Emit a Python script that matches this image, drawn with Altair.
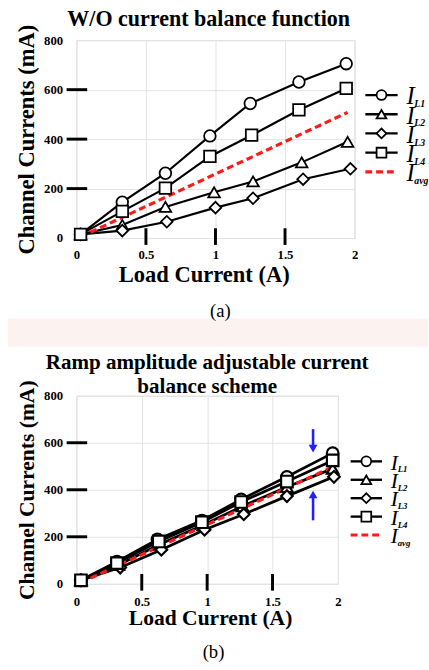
import altair as alt
import pandas as pd

SERIF = "Liberation Serif"

# ---- (a) without current balance function ----
a_x_L1 = [0.03, 0.33, 0.64, 0.96, 1.25, 1.60, 1.94]
a_y_L1 = [15, 145, 262, 413, 544, 631, 705]
a_x_L2 = [0.03, 0.33, 0.64, 0.99, 1.27, 1.62, 1.95]
a_y_L2 = [15, 53, 126, 185, 229, 306, 389]
a_x_L3 = [0.03, 0.33, 0.65, 1.00, 1.27, 1.63, 1.97]
a_y_L3 = [15, 30, 66, 123, 161, 238, 280]
a_x_L4 = [0.03, 0.33, 0.64, 0.96, 1.26, 1.60, 1.94]
a_y_L4 = [15, 108, 202, 330, 416, 518, 605]
a_x_avg = [0.03, 1.95]
a_y_avg = [5, 508]

# ---- (b) ramp amplitude adjustable current balance scheme ----
b_x_L1 = [0.035, 0.31, 0.62, 0.96, 1.26, 1.61, 1.96]
b_y_L1 = [15, 94, 189, 269, 359, 455, 556]
b_x_L2 = [0.035, 0.32, 0.64, 0.97, 1.27, 1.61, 1.96]
b_y_L2 = [15, 80, 168, 250, 330, 412, 490]
b_x_L3 = [0.035, 0.335, 0.65, 0.98, 1.28, 1.61, 1.97]
b_y_L3 = [15, 69, 145, 230, 296, 373, 455]
b_x_L4 = [0.035, 0.31, 0.63, 0.96, 1.26, 1.61, 1.96]
b_y_L4 = [15, 88, 180, 262, 348, 435, 525]
b_x_avg = [0.035, 1.95]
b_y_avg = [5, 495]

# blue arrows marking the narrowed spread
arrow_x = 1.81
down_from, down_to = 658, 575
up_from, up_to = 270, 380

series_keys = ["L1", "L2", "L3", "L4"]
series_shapes = ["circle", "triangle-up", "diamond", "square"]
legend_subs = ["L1", "L2", "L3", "L4", "avg"]

x_ticks = [0, 0.5, 1, 1.5, 2]
y_ticks = [0, 200, 400, 600, 800]
inner_x_ticks = [0.5, 1, 1.5]
inner_y_ticks = [200, 400, 600]


def long_table(xs, ys):
    rows = []
    for key, xv, yv in zip(series_keys, xs, ys):
        for a, b in zip(xv, yv):
            rows.append({"x": a, "y": b, "s": key})
    return pd.DataFrame(rows)


def panel(xs, ys, avg_x, avg_y, title, W, H, left, bottom, leg, caption,
          cap_pos, title_dx=0, title_offset=10, title_size=21, axis_size=22,
          xtitle_shift=0, band=None, arrows=False, xlab_pad=11, xtitle_pad=2,
          line_w=2.2, mark_w=1.8):
    xsc = alt.Scale(domain=[0, 2], nice=False)
    ysc = alt.Scale(domain=[0, 800], nice=False)
    one = pd.DataFrame({"k": [0]})
    df = long_table(xs, ys)
    avg = pd.DataFrame({"x": avg_x, "y": avg_y})

    xaxis = alt.Axis(values=x_ticks, format="~g", ticks=False, domain=False,
                     grid=True, gridColor="#e2e2e2", gridWidth=1,
                     labelFont=SERIF, labelFontSize=13, labelFontWeight="bold",
                     labelPadding=xlab_pad, labelFlush=False, labelOverlap=False,
                     title="Load Current (A)", titleFont=SERIF, titleFontSize=axis_size,
                     titleFontWeight="bold", titlePadding=xtitle_pad,
                     titleX=W / 2 + xtitle_shift)
    yaxis = alt.Axis(values=y_ticks, ticks=False, domain=False,
                     grid=True, gridColor="#e2e2e2", gridWidth=1,
                     labelFont=SERIF, labelFontSize=13, labelFontWeight="bold",
                     labelPadding=14, labelFlush=False, labelOverlap=False,
                     title="Channel Currents (mA)", titleFont=SERIF, titleFontSize=axis_size,
                     titleFontWeight="bold", titlePadding=5)

    layers = []
    # horizontal / lower extent of the panel (transparent)
    layers.append(alt.Chart(one).mark_rect(opacity=0).encode(
        x=alt.value(-left), x2=alt.value(429 - left),
        y=alt.value(0), y2=alt.value(bottom)))
    if band is not None:
        layers.append(alt.Chart(one).mark_rect(color="#fcf3f1").encode(
            x=alt.value(-left), x2=alt.value(429 - left),
            y=alt.value(band[0]), y2=alt.value(band[1])))

    layers.append(alt.Chart(df).mark_line(color="black", strokeWidth=line_w).encode(
        x=alt.X("x:Q", scale=xsc, axis=xaxis),
        y=alt.Y("y:Q", scale=ysc, axis=yaxis),
        detail="s:N"))
    layers.append(alt.Chart(avg).mark_line(color="#ff1a1a", strokeWidth=3.2,
                                           strokeDash=[7, 4]).encode(
        x=alt.X("x:Q", scale=xsc), y=alt.Y("y:Q", scale=ysc)))
    layers.append(alt.Chart(df).mark_point(filled=True, fill="white", stroke="black",
                                           strokeWidth=mark_w, size=140, opacity=1).encode(
        x=alt.X("x:Q", scale=xsc), y=alt.Y("y:Q", scale=ysc),
        shape=alt.Shape("s:N", scale=alt.Scale(domain=series_keys, range=series_shapes),
                        legend=None)))

    # ticks crossing the frame
    layers.append(alt.Chart(pd.DataFrame({"v": inner_y_ticks})).mark_rule(
        color="black", strokeWidth=3).encode(
        y=alt.Y("v:Q", scale=ysc), x=alt.value(-10), x2=alt.value(11)))
    layers.append(alt.Chart(pd.DataFrame({"v": inner_x_ticks})).mark_rule(
        color="black", strokeWidth=3).encode(
        x=alt.X("v:Q", scale=xsc), y=alt.value(H - 10), y2=alt.value(H + 7)))

    if arrows:
        for y_from, y_to, shp in [(down_from, down_to, "triangle-down"),
                                  (up_from, up_to, "triangle-up")]:
            adf = pd.DataFrame({"x": [arrow_x], "y1": [y_from], "y2": [y_to]})
            layers.append(alt.Chart(adf).mark_rule(color="#1f1fff", strokeWidth=2.6).encode(
                x=alt.X("x:Q", scale=xsc), y=alt.Y("y1:Q", scale=ysc), y2="y2:Q"))
            layers.append(alt.Chart(adf).mark_point(shape=shp, filled=True, color="#1f1fff",
                                                    size=80, opacity=1).encode(
                x=alt.X("x:Q", scale=xsc), y=alt.Y("y2:Q", scale=ysc)))

    # hand-drawn legend to the right of the frame
    lx0, lx1, ly0, ldy, isz, ssz = leg
    for i, sub in enumerate(legend_subs):
        yy = ly0 + i * ldy
        if sub == "avg":
            layers.append(alt.Chart(one).mark_rule(color="#ff1a1a", strokeWidth=3.2,
                                                   strokeDash=[7, 4]).encode(
                x=alt.value(lx0), x2=alt.value(lx1), y=alt.value(yy)))
        else:
            layers.append(alt.Chart(one).mark_rule(color="black", strokeWidth=2.4).encode(
                x=alt.value(lx0), x2=alt.value(lx1), y=alt.value(yy)))
            layers.append(alt.Chart(one).mark_point(
                shape=series_shapes[i], filled=True, fill="white", stroke="black",
                strokeWidth=1.8, size=100, opacity=1).encode(
                x=alt.value((lx0 + lx1) / 2), y=alt.value(yy)))
        layers.append(alt.Chart(one).mark_text(
            text="I", font=SERIF, fontStyle="italic", fontSize=isz, align="left",
            baseline="alphabetic").encode(x=alt.value(lx1 + 9), y=alt.value(yy + isz * 0.38)))
        layers.append(alt.Chart(one).mark_text(
            text=sub, font=SERIF, fontStyle="italic", fontWeight="bold", fontSize=ssz,
            align="left", baseline="alphabetic").encode(
            x=alt.value(lx1 + 9 + isz * 0.32), y=alt.value(yy + isz * 0.38 + 3)))

    layers.append(alt.Chart(one).mark_text(
        text=caption, font=SERIF, fontSize=19, align="center", baseline="middle").encode(
        x=alt.value(cap_pos[0]), y=alt.value(cap_pos[1])))

    return alt.layer(*layers).properties(
        width=W, height=H,
        title=alt.TitleParams(text=title, font=SERIF, fontSize=title_size, fontWeight="bold",
                              anchor="middle", frame="group", offset=title_offset,
                              dx=title_dx, lineHeight=25))


pa = panel([a_x_L1, a_x_L2, a_x_L3, a_x_L4], [a_y_L1, a_y_L2, a_y_L3, a_y_L4],
           a_x_avg, a_y_avg, "W/O current balance function",
           W=284, H=202, left=70, bottom=313,
           leg=(295, 328, 56, 19.6, 25, 10), caption="(a)", cap_pos=(147, 277),
           title_dx=-7, title_offset=-6, title_size=22.5, axis_size=23,
           xtitle_shift=-12, band=(284, 313))

pb = panel([b_x_L1, b_x_L2, b_x_L3, b_x_L4], [b_y_L1, b_y_L2, b_y_L3, b_y_L4],
           b_x_avg, b_y_avg, ["Ramp amplitude adjustable current", "balance scheme"],
           W=267, H=192, left=77, bottom=274,
           leg=(280, 312, 67, 18.8, 22, 9), caption="(b)", cap_pos=(140, 262),
           title_offset=-18, title_size=21.5, axis_size=22, xtitle_shift=3,
           arrows=True, xlab_pad=12, xtitle_pad=0, line_w=2.8, mark_w=2.2)

chart = alt.ConcatChart(concat=[pa, pb], columns=1, align="none", spacing=3,
                        bounds="full").properties(
    padding={"left": 0, "top": 0, "right": 0, "bottom": 0}
).configure_view(stroke="black", strokeWidth=4).configure(background="white")

chart.save("out.html", embed_options={"renderer": "svg", "actions": False})
